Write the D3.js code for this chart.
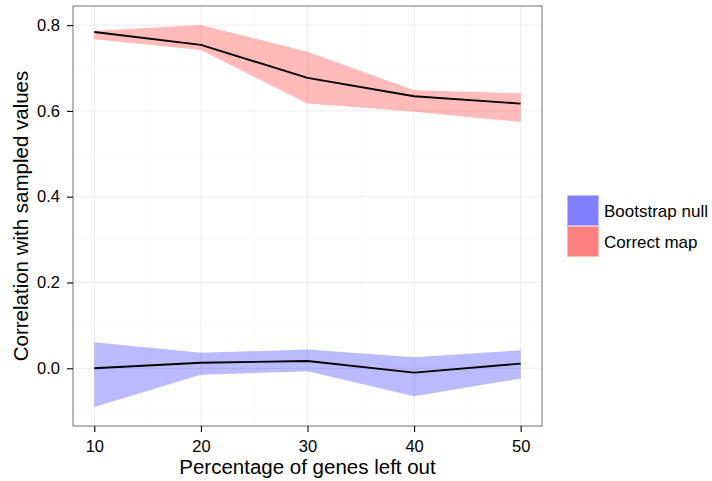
<!DOCTYPE html>
<html>
<head>
<meta charset="utf-8">
<script src="https://cdn.jsdelivr.net/npm/d3@7"></script>
<style>
  html, body { margin: 0; padding: 0; background: #fff; }
  svg text { font-family: "Liberation Sans", Arial, Helvetica, sans-serif; }
</style>
</head>
<body>
<svg id="chart" width="712" height="481"></svg>
<script>
// Percentage of genes left out
const pctLeftOut = [10, 20, 30, 40, 50];

// Correct map: mean correlation and ribbon bounds
const correctMean  = [0.784, 0.754, 0.677, 0.634, 0.617];
const correctLower = [0.767, 0.742, 0.617, 0.598, 0.574];
const correctUpper = [0.787, 0.800, 0.738, 0.648, 0.641];

// Bootstrap null: mean correlation and ribbon bounds
const nullMean  = [0.000, 0.013, 0.017, -0.010, 0.011];
const nullLower = [-0.090, -0.015, -0.007, -0.065, -0.024];
const nullUpper = [0.061, 0.036, 0.044, 0.026, 0.042];

const xTicks = [10, 20, 30, 40, 50];
const yTicks = [0.0, 0.2, 0.4, 0.6, 0.8];
const xMinor = [15, 25, 35, 45];
const yMinor = [-0.1, 0.1, 0.3, 0.5, 0.7];

const legendLabels = ["Bootstrap null", "Correct map"];

const svg = d3.select("#chart");
const panel = { left: 73, right: 542, top: 6, bottom: 426 };

const x = d3.scaleLinear().domain([8, 52]).range([panel.left, panel.right]);
const y = d3.scaleLinear().domain([-0.1345, 0.8445]).range([panel.bottom, panel.top]);

// background
svg.append("rect")
  .attr("x", panel.left).attr("y", panel.top)
  .attr("width", panel.right - panel.left).attr("height", panel.bottom - panel.top)
  .attr("fill", "#fff");

// minor grid
const grid = svg.append("g");
grid.selectAll(".xminor").data(xMinor).join("line")
  .attr("x1", d => x(d)).attr("x2", d => x(d))
  .attr("y1", panel.top).attr("y2", panel.bottom)
  .attr("stroke", "#FAFAFA").attr("stroke-width", 1);
grid.selectAll(".yminor").data(yMinor).join("line")
  .attr("y1", d => y(d)).attr("y2", d => y(d))
  .attr("x1", panel.left).attr("x2", panel.right)
  .attr("stroke", "#FAFAFA").attr("stroke-width", 1);
// major grid
grid.selectAll(".xmajor").data(xTicks).join("line")
  .attr("x1", d => x(d)).attr("x2", d => x(d))
  .attr("y1", panel.top).attr("y2", panel.bottom)
  .attr("stroke", "#EBEBEB").attr("stroke-width", 1);
grid.selectAll(".ymajor").data(yTicks).join("line")
  .attr("y1", d => y(d)).attr("y2", d => y(d))
  .attr("x1", panel.left).attr("x2", panel.right)
  .attr("stroke", "#EBEBEB").attr("stroke-width", 1);

// ribbons
const idx = d3.range(pctLeftOut.length);
const ribbon = (lo, hi) => d3.area()
  .x(i => x(pctLeftOut[i]))
  .y0(i => y(lo[i]))
  .y1(i => y(hi[i]));
svg.append("path").datum(idx)
  .attr("d", ribbon(nullLower, nullUpper))
  .attr("fill", "rgb(0,0,255)").attr("fill-opacity", 0.27);
svg.append("path").datum(idx)
  .attr("d", ribbon(correctLower, correctUpper))
  .attr("fill", "rgb(255,0,0)").attr("fill-opacity", 0.27);

// mean lines
const line = vals => d3.line().x(i => x(pctLeftOut[i])).y(i => y(vals[i]));
[nullMean, correctMean].forEach(vals => {
  svg.append("path").datum(idx)
    .attr("d", line(vals))
    .attr("fill", "none").attr("stroke", "#000").attr("stroke-width", 1.9)
    .attr("stroke-linejoin", "round");
});

// panel border
svg.append("rect")
  .attr("x", panel.left).attr("y", panel.top)
  .attr("width", panel.right - panel.left).attr("height", panel.bottom - panel.top)
  .attr("fill", "none").attr("stroke", "#7F7F7F").attr("stroke-width", 1.1);

// axes
const xAxis = svg.append("g")
  .attr("transform", `translate(0,${panel.bottom})`)
  .call(d3.axisBottom(x).tickValues(xTicks).tickFormat(d3.format("d")).tickSize(6).tickPadding(8));
const yAxis = svg.append("g")
  .attr("transform", `translate(${panel.left},0)`)
  .call(d3.axisLeft(y).tickValues(yTicks).tickFormat(d3.format(".1f")).tickSize(6).tickPadding(7));
[xAxis, yAxis].forEach(a => {
  a.select(".domain").remove();
  a.selectAll(".tick line").attr("stroke", "#000").attr("stroke-width", 1.1);
  a.selectAll(".tick text").attr("fill", "#000").style("font-size", "16.5px");
});

// axis titles
svg.append("text")
  .attr("x", (panel.left + panel.right) / 2).attr("y", 474)
  .attr("text-anchor", "middle").style("font-size", "20.5px").attr("fill", "#000")
  .text("Percentage of genes left out");
svg.append("text")
  .attr("transform", `translate(28,${(panel.top + panel.bottom) / 2}) rotate(-90)`)
  .attr("text-anchor", "middle").style("font-size", "20.5px").attr("fill", "#000")
  .text("Correlation with sampled values");

// legend
const legendFill = ["rgb(128,128,255)", "rgb(255,128,128)"];
const legendStroke = ["rgb(190,190,255)", "rgb(255,190,190)"];
const leg = svg.append("g").attr("transform", "translate(567,195)");
legendLabels.forEach((lab, i) => {
  leg.append("rect")
    .attr("x", 0.5).attr("y", i * 31 + 0.5).attr("width", 31).attr("height", 30)
    .attr("fill", legendFill[i]).attr("stroke", legendStroke[i]).attr("stroke-width", 1);
  leg.append("text")
    .attr("x", 37).attr("y", i * 31 + 22)
    .style("font-size", "17px").attr("fill", "#000")
    .text(lab);
});
</script>
</body>
</html>
